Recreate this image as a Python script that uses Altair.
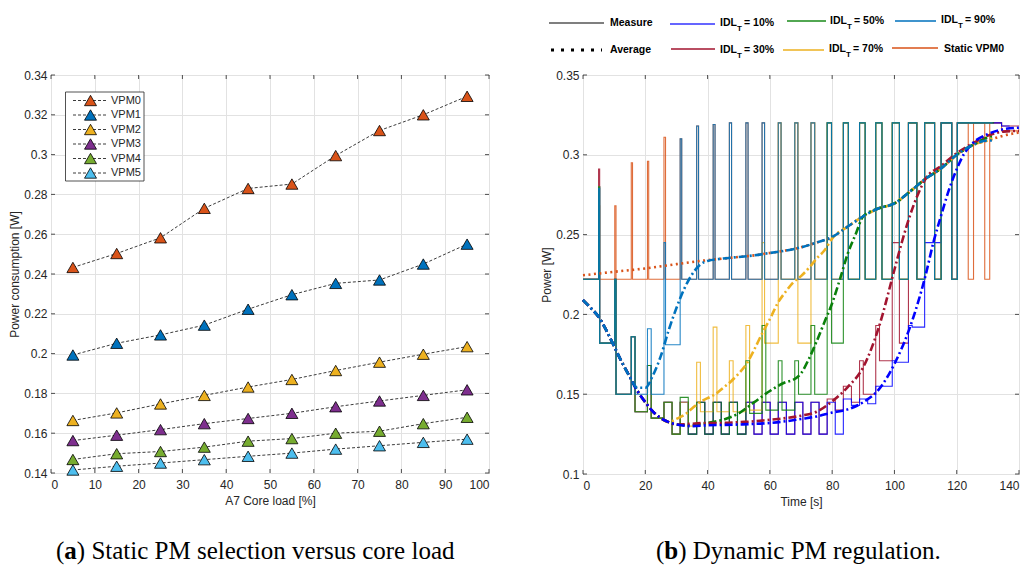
import altair as alt
import pandas as pd

# ======================= Panel (a): static PM selection =======================
core_load = [5, 15, 25, 35, 45, 55, 65, 75, 85, 95]
vpm_names = ["VPM0", "VPM1", "VPM2", "VPM3", "VPM4", "VPM5"]
vpm_colors = ["#D95319", "#0072BD", "#EDB120", "#7E2F8E", "#77AC30", "#4DBEEE"]
vpm0 = [0.2433, 0.2503, 0.2582, 0.2730, 0.2830, 0.2852, 0.2995, 0.3121, 0.3200, 0.3293]
vpm1 = [0.1993, 0.2052, 0.2094, 0.2143, 0.2223, 0.2296, 0.2353, 0.2370, 0.2450, 0.2550]
vpm2 = [0.1664, 0.1702, 0.1747, 0.1790, 0.1832, 0.1870, 0.1915, 0.1957, 0.1997, 0.2035]
vpm3 = [0.1563, 0.1590, 0.1618, 0.1648, 0.1674, 0.1700, 0.1733, 0.1762, 0.1790, 0.1818]
vpm4 = [0.1468, 0.1497, 0.1508, 0.1530, 0.1560, 0.1573, 0.1600, 0.1610, 0.1648, 0.1680]
vpm5 = [0.1415, 0.1434, 0.1450, 0.1467, 0.1484, 0.1500, 0.1520, 0.1537, 0.1554, 0.1570]
a_xticks = [0, 10, 20, 30, 40, 50, 60, 70, 80, 90, 100]
a_yticks = [0.14, 0.16, 0.18, 0.2, 0.22, 0.24, 0.26, 0.28, 0.3, 0.32, 0.34]

# ======================= Panel (b): dynamic PM regulation =====================
t_periods = [0, 5.0, 10.2, 15.5, 20.7, 26.0, 31.2, 36.5, 41.8, 47.0, 52.3, 57.5, 62.7,
             68.0, 73.2, 78.4, 83.6, 88.8, 94.0, 99.3, 104.5, 109.7, 115.0, 120.2, 125.4, 130.6]
w_high = [0.3, 0.35, 0.4, 0.4, 0.4, 0.5, 0.5, 0.6, 0.6, 0.7, 0.7, 0.8, 0.9,
          1.0, 1.2, 1.4, 1.6, 1.8, 2.0, 2.3, 2.7, 3.2, 3.4, 3.5, 3.6, 3.8]

static_peak = [0.222, 0.268, 0.268, 0.295, 0.296, 0.311, 0.310, 0.318, 0.319, 0.320, 0.320, 0.320, 0.320,
               0.320, 0.320, 0.320, 0.320, 0.320, 0.320, 0.320, 0.320, 0.320, 0.320, 0.320, 0.320, 0.320]
static_base = [0.222, 0.222, 0.222, 0.222, 0.222, 0.222, 0.222, 0.222, 0.222, 0.222, 0.222, 0.222, 0.222,
               0.222, 0.222, 0.222, 0.222, 0.222, 0.222, 0.222, 0.222, 0.222, 0.222, 0.222, 0.222, 0.315]
idl90_peak = [0.222, 0.279, 0.222, 0.186, 0.191, 0.245, 0.310, 0.318, 0.319, 0.320, 0.320, 0.320, 0.320,
              0.320, 0.320, 0.320, 0.320, 0.320, 0.320, 0.320, 0.320, 0.320, 0.320, 0.320, 0.320, 0.320]
idl90_base = [0.222, 0.182, 0.150, 0.150, 0.150, 0.181, 0.222, 0.222, 0.222, 0.222, 0.222, 0.222, 0.222,
              0.222, 0.222, 0.222, 0.222, 0.222, 0.222, 0.222, 0.222, 0.222, 0.222, 0.320, 0.320, 0.310]
idl70_peak = [0.222, 0.280, 0.222, 0.186, 0.168, 0.145, 0.145, 0.170, 0.192, 0.171, 0.193, 0.245, 0.320,
              0.320, 0.320, 0.320, 0.320, 0.320, 0.320, 0.320, 0.320, 0.320, 0.320, 0.320, 0.320, 0.320]
idl70_base = [0.222, 0.182, 0.150, 0.139, 0.135, 0.125, 0.130, 0.139, 0.139, 0.139, 0.140, 0.182, 0.222,
              0.182, 0.222, 0.222, 0.222, 0.222, 0.222, 0.222, 0.222, 0.222, 0.222, 0.320, 0.320, 0.310]
idl50_peak = [0.222, 0.280, 0.222, 0.186, 0.168, 0.145, 0.148, 0.145, 0.145, 0.145, 0.171, 0.193, 0.171,
              0.171, 0.193, 0.320, 0.320, 0.320, 0.320, 0.320, 0.320, 0.320, 0.320, 0.320, 0.320, 0.320]
idl50_base = [0.222, 0.182, 0.150, 0.139, 0.135, 0.125, 0.125, 0.125, 0.125, 0.125, 0.138, 0.140, 0.140,
              0.150, 0.150, 0.182, 0.222, 0.222, 0.222, 0.222, 0.222, 0.222, 0.222, 0.320, 0.320, 0.310]
idl30_peak = [0.222, 0.291, 0.222, 0.186, 0.168, 0.145, 0.145, 0.145, 0.145, 0.145, 0.145, 0.145, 0.145,
              0.145, 0.145, 0.147, 0.155, 0.171, 0.193, 0.245, 0.320, 0.320, 0.320, 0.320, 0.320, 0.320]
idl30_base = [0.222, 0.182, 0.150, 0.139, 0.135, 0.125, 0.125, 0.125, 0.125, 0.125, 0.125, 0.125, 0.125,
              0.125, 0.125, 0.140, 0.145, 0.150, 0.171, 0.182, 0.222, 0.222, 0.222, 0.320, 0.320, 0.318]
idl10_peak = [0.222, 0.280, 0.222, 0.186, 0.168, 0.145, 0.145, 0.145, 0.145, 0.145, 0.145, 0.145, 0.145,
              0.145, 0.145, 0.145, 0.147, 0.147, 0.155, 0.171, 0.193, 0.245, 0.320, 0.320, 0.320, 0.320]
idl10_base = [0.222, 0.182, 0.150, 0.139, 0.135, 0.125, 0.125, 0.125, 0.125, 0.125, 0.125, 0.125, 0.125,
              0.125, 0.125, 0.125, 0.143, 0.144, 0.155, 0.170, 0.192, 0.245, 0.222, 0.320, 0.320, 0.318]

# moving averages
avg_common_t = [0, 2.5, 5, 7.5, 10, 12.5, 15, 17.5, 20, 22.5, 25, 27.5]
avg_common_v = [0.209, 0.204, 0.1985, 0.190, 0.180, 0.170, 0.161, 0.152, 0.145, 0.139, 0.135, 0.1325]
avg90_t = [0, 2.5, 5, 7.5, 10, 12.5, 15, 17.5, 20, 22.5, 25, 27.5, 30, 32.5, 35, 37.5, 40, 45, 50, 55,
           60, 65, 70, 75, 80, 85, 90, 95, 100, 105, 110, 115, 120, 125, 130, 131.5]
avg90_v = [0.209, 0.204, 0.1985, 0.190, 0.180, 0.170, 0.161, 0.154, 0.154, 0.162, 0.174, 0.190, 0.204,
           0.216, 0.225, 0.231, 0.2335, 0.235, 0.236, 0.237, 0.2385, 0.240, 0.242, 0.245, 0.2485, 0.255,
           0.2615, 0.2665, 0.2695, 0.277, 0.285, 0.2915, 0.300, 0.306, 0.309, 0.309]
avg70_t = [30, 32.5, 35, 37.5, 40, 42.5, 45, 47.5, 50, 52.5, 55, 57.5, 60, 62.5, 65, 67.5, 70, 72.5, 75,
           77.5, 80, 85, 90, 95, 100, 105, 110, 115, 120, 125, 130, 131.5]
avg70_v = [0.1345, 0.137, 0.141, 0.145, 0.1475, 0.150, 0.154, 0.158, 0.163, 0.169, 0.178, 0.188, 0.197,
           0.207, 0.214, 0.220, 0.224, 0.229, 0.235, 0.240, 0.2475, 0.255, 0.2615, 0.2665, 0.2695, 0.277,
           0.285, 0.2915, 0.300, 0.306, 0.309, 0.310]
avg50_t = [30, 35, 40, 45, 50, 55, 60, 65, 67.5, 70, 72.5, 75, 77.5, 80, 82.5, 85, 87.5, 90,
           95, 100, 105, 110, 115, 120, 125, 130, 132]
avg50_v = [0.131, 0.1305, 0.132, 0.134, 0.138, 0.145, 0.152, 0.1575, 0.159, 0.163, 0.172, 0.183, 0.195,
           0.207, 0.222, 0.238, 0.250, 0.2615, 0.2665, 0.2695, 0.277, 0.285, 0.2915, 0.300, 0.306, 0.311, 0.312]
avg30_t = [30, 35, 40, 45, 50, 55, 60, 65, 70, 75, 80, 85, 90, 95, 100, 102.5, 105, 107.5, 110, 115,
           120, 125, 130, 135, 140]
avg30_v = [0.131, 0.1315, 0.132, 0.132, 0.1325, 0.133, 0.134, 0.135, 0.1365, 0.139, 0.1455, 0.1545, 0.167,
           0.192, 0.228, 0.246, 0.262, 0.275, 0.285, 0.293, 0.301, 0.307, 0.312, 0.3145, 0.315]
avg10_t = [30, 35, 40, 50, 60, 65, 70, 75, 80, 85, 90, 95, 100, 105, 107.5, 110, 112.5, 115, 117.5, 120,
           122.5, 125, 130, 135, 140]
avg10_v = [0.131, 0.130, 0.1305, 0.131, 0.132, 0.133, 0.1345, 0.136, 0.1385, 0.1405, 0.145, 0.153, 0.169,
           0.192, 0.207, 0.2245, 0.245, 0.262, 0.278, 0.291, 0.301, 0.307, 0.313, 0.316, 0.317]
avgst_t = [0, 10, 20, 30, 40, 45, 50, 55, 60, 65, 70, 75, 80, 85, 90, 95, 100, 105, 110, 115, 120, 125,
           130, 135, 140]
avgst_v = [0.2245, 0.2267, 0.2288, 0.2315, 0.234, 0.235, 0.236, 0.237, 0.2385, 0.240, 0.242, 0.245, 0.2485,
           0.255, 0.2615, 0.2665, 0.2695, 0.277, 0.285, 0.2915, 0.300, 0.306, 0.309, 0.312, 0.314]

b_xticks = [0, 20, 40, 60, 80, 100, 120, 140]
b_yticks = [0.1, 0.15, 0.2, 0.25, 0.3, 0.35]

C_STATIC, C10, C30, C50, C70, C90 = "#D95319", "#0000FF", "#A2142F", "#0A800A", "#EDB120", "#0072BD"

# measurement series: (peaks, bases, end time, colour) in drawing order
meas = [
    (static_peak, static_base, 140.0, C_STATIC),
    (idl30_peak, idl30_base, 140.0, C30),
    (idl10_peak, idl10_base, 137.0, C10),
    (idl70_peak, idl70_base, 131.5, C70),
    (idl50_peak, idl50_base, 132.0, C50),
    (idl90_peak, idl90_base, 131.5, C90),
]
avgs = [
    (avgst_t, avgst_v, C_STATIC, [2, 3.5]),
    (avg_common_t + avg70_t, avg_common_v + avg70_v, C70, [8, 3, 2, 3]),
    (avg_common_t + avg50_t, avg_common_v + avg50_v, C50, [8, 3, 2, 3]),
    (avg_common_t + avg30_t, avg_common_v + avg30_v, C30, [8, 3, 2, 3]),
    (avg_common_t + avg10_t, avg_common_v + avg10_v, C10, [8, 3, 2, 3]),
    (avg90_t, avg90_v, C90, [8, 3, 2, 3]),
]

FONT = "Liberation Sans"
DARK = "#262626"
SERIF = "Liberation Serif"

W_A, H_A = 438, 398
W_B, H_B = 436, 399
CAP_Y = 484


def one():
    return pd.DataFrame({"k": [0]})


def step_rows(peaks, bases, end):
    pts = []
    for k, (t, p, b) in enumerate(zip(t_periods, peaks, bases)):
        if p >= 0.2 or b >= 0.2:
            w = w_high[k]
        elif p < 0.16:
            w = 2.6
        else:
            w = 1.2
        pts.append((t, p))
        pts.append((t + w, b))
    pts = [q for q in pts if q[0] < end]
    pts.append((end, pts[-1][1]))
    return pd.DataFrame(pts, columns=["t", "v"])


def tick_layers(xticks, yticks, xs, ys, ax, ay, W, H):
    dx = pd.DataFrame({"v": xticks})
    dy = pd.DataFrame({"v": yticks})
    X = alt.X("v:Q", scale=xs, axis=ax)
    Y = alt.Y("v:Q", scale=ys, axis=ay)
    r = dict(color=DARK, strokeWidth=0.8)
    return [
        alt.Chart(dx).mark_rule(**r).encode(x=X, y=alt.value(H), y2=alt.value(H - 4)),
        alt.Chart(dx).mark_rule(**r).encode(x=X, y=alt.value(0), y2=alt.value(4)),
        alt.Chart(dy).mark_rule(**r).encode(y=Y, x=alt.value(0), x2=alt.value(4)),
        alt.Chart(dy).mark_rule(**r).encode(y=Y, x=alt.value(W), x2=alt.value(W - 4)),
    ]


def caption(letter, rest, x0, y0, bold_w):
    return [
        alt.Chart(one()).mark_text(font=SERIF, fontSize=25, align="left", baseline="alphabetic", color="black")
        .encode(x=alt.value(x0), y=alt.value(y0), text=alt.value("(")),
        alt.Chart(one()).mark_text(font=SERIF, fontSize=25, fontWeight="bold", align="left",
                                   baseline="alphabetic", color="black")
        .encode(x=alt.value(x0 + 8.3), y=alt.value(y0), text=alt.value(letter)),
        alt.Chart(one()).mark_text(font=SERIF, fontSize=25, align="left", baseline="alphabetic", color="black")
        .encode(x=alt.value(x0 + 8.3 + bold_w), y=alt.value(y0), text=alt.value(rest)),
    ]


# ----------------------------- left chart -----------------------------
xs_a = alt.Scale(domain=[0, 100], nice=False, zero=False)
ys_a = alt.Scale(domain=[0.14, 0.34], nice=False, zero=False)
ax_a = alt.Axis(values=a_xticks, title="A7 Core load [%]", titlePadding=5, labelPadding=6)
ay_a = alt.Axis(values=a_yticks, title="Power consumption [W]", titlePadding=2, labelPadding=4,
                labelExpr="format(datum.value, '~g')")

rows = []
for name, vals in zip(vpm_names, [vpm0, vpm1, vpm2, vpm3, vpm4, vpm5]):
    for x, y in zip(core_load, vals):
        rows.append({"load": x, "power": y, "series": name})
dfa = pd.DataFrame(rows)

XA = alt.X("load:Q", scale=xs_a, axis=ax_a)
YA = alt.Y("power:Q", scale=ys_a, axis=ay_a)
a_layers = tick_layers(a_xticks, a_yticks, xs_a, ys_a, ax_a, ay_a, W_A, H_A)
a_layers.append(
    alt.Chart(dfa).mark_line(color=DARK, strokeDash=[3, 2], strokeWidth=0.9)
    .encode(x=XA, y=YA, detail="series:N")
)
a_layers.append(
    alt.Chart(dfa).mark_point(shape="triangle-up", size=144, filled=True, stroke="black",
                              strokeWidth=0.8, opacity=1, fillOpacity=1)
    .encode(x=XA, y=YA, fill=alt.Fill("series:N", scale=alt.Scale(domain=vpm_names, range=vpm_colors),
                                      legend=None))
)
# legend box
a_layers.append(
    alt.Chart(one()).mark_rect(fill="white", stroke=DARK, strokeWidth=0.8)
    .encode(x=alt.value(14.5), x2=alt.value(93), y=alt.value(17), y2=alt.value(106))
)
leg_y = [25.5, 40, 54.5, 69, 83.5, 98]
for name, col, yy in zip(vpm_names, vpm_colors, leg_y):
    a_layers.append(alt.Chart(one()).mark_rule(color=DARK, strokeDash=[3, 2], strokeWidth=0.9)
                    .encode(x=alt.value(22), x2=alt.value(57), y=alt.value(yy)))
    a_layers.append(alt.Chart(one()).mark_point(shape="triangle-up", size=144, filled=True, fill=col,
                                                stroke="black", strokeWidth=0.8, opacity=1)
                    .encode(x=alt.value(39.5), y=alt.value(yy)))
    a_layers.append(alt.Chart(one()).mark_text(font=FONT, fontSize=11, align="left", baseline="middle",
                                               color=DARK)
                    .encode(x=alt.value(60), y=alt.value(yy), text=alt.value(name)))
a_layers += caption("a", ") Static PM selection versus core load", 5, CAP_Y, 12.5)
left = alt.layer(*a_layers).properties(width=W_A, height=H_A)

# ----------------------------- right chart -----------------------------
xs_b = alt.Scale(domain=[0, 140], nice=False, zero=False)
ys_b = alt.Scale(domain=[0.1, 0.35], nice=False, zero=False)
ax_b = alt.Axis(values=b_xticks, title="Time [s]", titlePadding=5, labelPadding=6, labelFlush=True)
ay_b = alt.Axis(values=b_yticks, title="Power [W]", titlePadding=2, labelPadding=4,
                labelExpr="format(datum.value, '~g')")
XB = alt.X("t:Q", scale=xs_b, axis=ax_b)
YB = alt.Y("v:Q", scale=ys_b, axis=ay_b)

b_layers = tick_layers(b_xticks, b_yticks, xs_b, ys_b, ax_b, ay_b, W_B, H_B)
for peaks, bases, end, col in meas:
    b_layers.append(
        alt.Chart(step_rows(peaks, bases, end)).mark_line(interpolate="step-after", color=col,
                                                          strokeWidth=1.1, opacity=0.85)
        .encode(x=XB, y=YB)
    )
for ts, vs, col, dash in avgs:
    b_layers.append(
        alt.Chart(pd.DataFrame({"t": ts, "v": vs})).mark_line(color=col, strokeWidth=2.6, strokeDash=dash,
                                                             interpolate="monotone")
        .encode(x=XB, y=YB)
    )

# manual legend above panel (b)
leg_lines = [  # x1, x2, y, colour, dash, width
    (-34, 21, -52, "#000000", [1, 0], 1.2),
    (-32, 19, -25, "#000000", [3, 7], 3.0),
    (87, 132, -51, "#3333FF", [1, 0], 1.5),
    (88, 132, -26, C30, [1, 0], 1.5),
    (204, 243, -54, "#1A8A1A", [1, 0], 1.5),
    (200, 241, -25, C70, [1, 0], 1.5),
    (312, 353, -54, C90, [1, 0], 1.5),
    (309, 355, -27, C_STATIC, [1, 0], 1.5),
]
for x1, x2, yy, col, dash, sw in leg_lines:
    b_layers.append(alt.Chart(one()).mark_rule(color=col, strokeDash=dash, strokeWidth=sw)
                    .encode(x=alt.value(x1), x2=alt.value(x2), y=alt.value(yy)))
plain_labels = [(27, -52, "Measure"), (27, -25, "Average"), (361, -26, "Static VPM0")]
for xx, yy, txt in plain_labels:
    b_layers.append(alt.Chart(one()).mark_text(font=FONT, fontSize=10.5, fontWeight="bold", align="left",
                                               baseline="middle", color="black")
                    .encode(x=alt.value(xx), y=alt.value(yy), text=alt.value(txt)))
idl_labels = [(137, -52, "= 10%"), (137, -25, "= 30%"), (247, -54, "= 50%"), (246, -26, "= 70%"),
              (358, -55, "= 90%")]
for xx, yy, txt in idl_labels:
    b_layers.append(alt.Chart(one()).mark_text(font=FONT, fontSize=10.5, fontWeight="bold", align="left",
                                               baseline="middle", color="black")
                    .encode(x=alt.value(xx), y=alt.value(yy), text=alt.value("IDL")))
    b_layers.append(alt.Chart(one()).mark_text(font=FONT, fontSize=8, fontWeight="bold", align="left",
                                               baseline="middle", color="black")
                    .encode(x=alt.value(xx + 17), y=alt.value(yy + 6), text=alt.value("T")))
    b_layers.append(alt.Chart(one()).mark_text(font=FONT, fontSize=10.5, fontWeight="bold", align="left",
                                               baseline="middle", color="black")
                    .encode(x=alt.value(xx + 24), y=alt.value(yy), text=alt.value(txt)))
b_layers += caption("b", ") Dynamic PM regulation.", 73, CAP_Y, 13.9)
right = alt.layer(*b_layers).properties(width=W_B, height=H_B)

chart = (
    alt.hconcat(left, right, spacing=50)
    .properties(padding={"left": 0, "top": 6, "right": 0, "bottom": 0})
    .configure_view(stroke=DARK, strokeWidth=1)
    .configure_axis(labelFont=FONT, labelFontSize=12, labelColor=DARK, titleFont=FONT, titleFontSize=12,
                    titleFontWeight="normal", titleColor=DARK, gridColor="#e2e2e2", gridWidth=1,
                    domain=False, ticks=False, tickSize=0)
)

chart.save("out.html", embed_options={"renderer": "svg", "actions": False})
